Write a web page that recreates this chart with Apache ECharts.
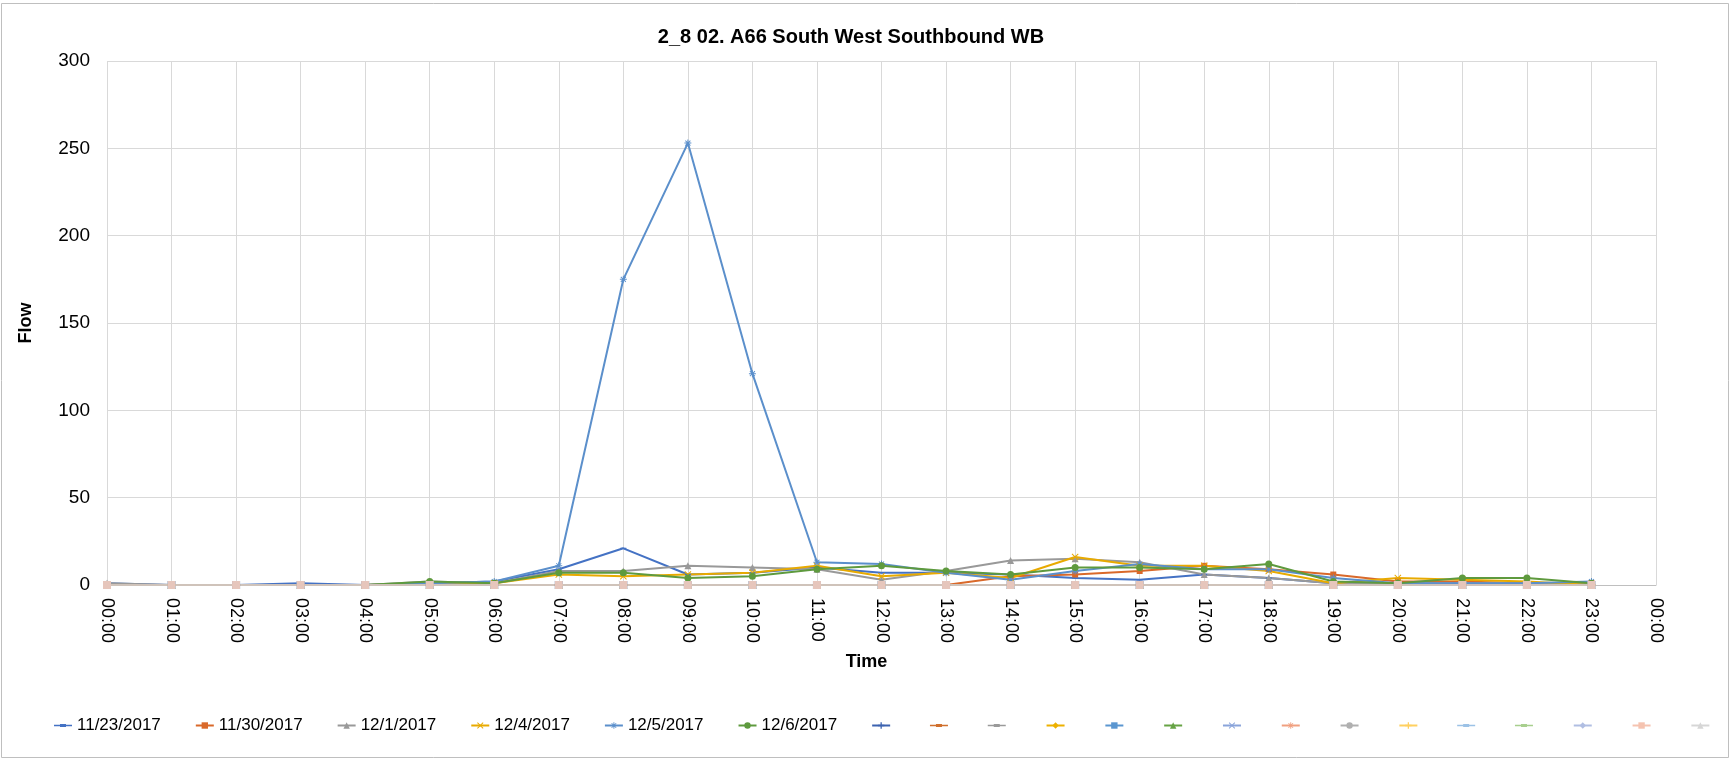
<!DOCTYPE html>
<html>
<head>
<meta charset="utf-8">
<script src="https://cdn.jsdelivr.net/npm/echarts@6/dist/echarts.min.js"></script>
<style>
html,body{margin:0;padding:0;background:#fff;}
#chart{width:1731px;height:763px;}
</style>
</head>
<body>
<div id="chart"></div>
<script>
// ---- data ----
const times = ['00:00','01:00','02:00','03:00','04:00','05:00','06:00','07:00','08:00','09:00','10:00','11:00','12:00','13:00','14:00','15:00','16:00','17:00','18:00','19:00','20:00','21:00','22:00','23:00','00:00'];
const yTicks = [0, 50, 100, 150, 200, 250, 300];
const seriesNames = ['11/23/2017','11/30/2017','12/1/2017','12/4/2017','12/5/2017','12/6/2017'];
const s1123 = [1,0,0,1,0,1,2,9,21,6,7,10,7,7,6,4,3,6,4,1,1,1,1,1];
const s1130 = [0,0,0,0,0,0,0,0,0,0,0,0,0,0,5,6,8,11,9,6,2,2,1,1];
const s1201 = [1,0,0,0,0,2,1,8,8,11,10,9,3,8,14,15,13,6,4,1,1,1,1,1];
const s1204 = [0,0,0,0,0,1,1,6,5,6,7,11,5,7,4,16,11,11,8,1,4,3,2,0];
const s1205 = [0,0,0,0,0,1,2,11,175,253,121,13,12,7,3,8,12,9,9,4,1,1,1,2];
const s1206 = [0,0,0,0,0,2,1,7,7,4,5,9,11,8,6,10,10,9,12,2,1,4,4,1];
const zeroSeries = [0,0,0,0,0,0,0,0,0,0,0,0,0,0,0,0,0,0,0,0,0,0,0,0];
const emptySeries = [];
const namedData = [s1123, s1130, s1201, s1204, s1205, s1206];
const unnamedData = [zeroSeries,zeroSeries,zeroSeries,zeroSeries,zeroSeries,zeroSeries,zeroSeries,zeroSeries,zeroSeries,zeroSeries,zeroSeries,zeroSeries,zeroSeries,zeroSeries,emptySeries];

// ---- styles ----
const SYM = {
  plus: 'path://M4,0H6V4H10V6H6V10H4V6H0V4H4Z',
  cross: 'path://M1,0L5,4L9,0L10,1L6,5L10,9L9,10L5,6L1,10L0,9L4,5L0,1Z',
  dash: 'path://M0,0H10V2H0Z',
  aster: 'path://M4.3,0h1.4v3.3l2.4-2.4 1,1-2.4,2.4h3.3v1.4h-3.3l2.4,2.4-1,1-2.4-2.4v3.3h-1.4v-3.3l-2.4,2.4-1-1 2.4-2.4h-3.3v-1.4h3.3l-2.4-2.4 1-1 2.4,2.4z'
};
const DASH_ICON = 'path://M0,0h0.01v0.01h-0.01z M0,8h0.01v-0.01h-0.01z M0,3.2H6V2.5H12V3.2H18V4.8H12V5.5H6V4.8H0Z';
const namedStyle = [
  {color:'#4472C4', symbol:SYM.dash, size:6, dashIcon:true},
  {color:'#D9692A', symbol:'rect', size:6},
  {color:'#999999', symbol:'triangle', size:7},
  {color:'#E8AA00', symbol:SYM.cross, size:7},
  {color:'#5B8FCB', symbol:SYM.aster, size:7},
  {color:'#5E9A3E', symbol:'circle', size:7}
];
const unnamedStyle = [
  {color:'#3C63B0', symbol:SYM.plus, size:8},
  {color:'#D0702E', symbol:SYM.dash, size:6, dashIcon:true},
  {color:'#9A9A9A', symbol:SYM.dash, size:6, dashIcon:true},
  {color:'#EDB100', symbol:'diamond', size:8},
  {color:'#5B96D0', symbol:'rect', size:8},
  {color:'#66A344', symbol:'triangle', size:8},
  {color:'#8AA4DA', symbol:SYM.cross, size:7},
  {color:'#F0A080', symbol:SYM.aster, size:8},
  {color:'#B0B0B0', symbol:'circle', size:7},
  {color:'#FFD060', symbol:SYM.plus, size:8},
  {color:'#9CC2E6', symbol:SYM.dash, size:6, dashIcon:true},
  {color:'#A8CF8E', symbol:SYM.dash, size:6, dashIcon:true},
  {color:'#B0BEE2', symbol:'diamond', size:8},
  {color:'#F5C3B0', symbol:'rect', size:8, line:'#CFC3BA', item:'#E6C6BC'},
  {color:'#D6D6D6', symbol:'triangle', size:8}
];

const FONT = '"Liberation Sans", Arial, sans-serif';
const series = [];
const legendData = [];
function toPts(arr){ return arr.map((v,i)=>[i, v]); }
namedData.forEach((d,i)=>{
  const st = namedStyle[i];
  series.push({
    name: seriesNames[i], type:'line', data: toPts(d),
    symbol: st.symbol, symbolSize: st.size, symbolKeepAspect:true, showSymbol:true,
    lineStyle:{color:st.color, width:2}, itemStyle:{color:st.color},
    emphasis:{disabled:true}
  });
  const ld = {name: seriesNames[i]};
  if (st.dashIcon) { ld.icon = DASH_ICON; ld.itemStyle = {color: st.color}; }
  legendData.push(ld);
});
unnamedData.forEach((d,i)=>{
  const st = unnamedStyle[i];
  const nm = 'u' + (i+1);
  series.push({
    name: nm, type:'line', data: toPts(d),
    symbol: st.symbol, symbolSize: st.size, symbolKeepAspect:true, showSymbol:true,
    lineStyle:{color: st.line || st.color, width:2}, itemStyle:{color: st.item || st.color},
    emphasis:{disabled:true}
  });
  const ld = {name: nm, lineStyle:{color:st.color}, itemStyle:{color:st.color}, textStyle:{fontSize:4}};
  if (st.dashIcon) ld.icon = DASH_ICON;
  legendData.push(ld);
});

const chart = echarts.init(document.getElementById('chart'));
chart.setOption({
  animation:false,
  backgroundColor:'#fff',
  title:{
    text:'2_8 02. A66 South West Southbound WB',
    left:846, top:22, textAlign:'center',
    textStyle:{fontFamily:FONT, fontSize:20, fontWeight:'bold', color:'#000'}
  },
  graphic:[{type:'rect', shape:{x:1.5, y:3.5, width:1727, height:754}, style:{fill:'none', stroke:'#BFBFBF', lineWidth:1}, silent:true}],
  grid:{left:107, right:75, top:61, bottom:178, containLabel:false},
  legend:{
    data: legendData, left:49, top:712, itemWidth:18, itemHeight:8, itemGap:34,
    formatter: n => (/^u\d+$/.test(n) ? '\u2009' : n),
    textStyle:{fontFamily:FONT, fontSize:17, color:'#000'}
  },
  xAxis:{
    type:'value', min:0, max:24, interval:1,
    name:'Time', nameLocation:'middle', nameGap:68,
    nameTextStyle:{fontFamily:FONT, fontSize:18, fontWeight:'bold', color:'#000', padding:[0,30,0,0]},
    axisLine:{show:true, lineStyle:{color:'#BFBFBF', width:1}},
    axisTick:{show:false},
    splitLine:{show:true, lineStyle:{color:'#D9D9D9', width:1}},
    axisLabel:{rotate:-90, margin:13, fontFamily:FONT, fontSize:18, color:'#000',
      formatter: v => times[v]}
  },
  yAxis:{
    type:'value', min:yTicks[0], max:yTicks[yTicks.length-1], interval:yTicks[1]-yTicks[0],
    name:'Flow', nameLocation:'middle', nameGap:72,
    nameTextStyle:{fontFamily:FONT, fontSize:18, fontWeight:'bold', color:'#000'},
    axisLine:{show:false}, axisTick:{show:false},
    splitLine:{show:true, lineStyle:{color:'#D9D9D9', width:1}},
    axisLabel:{margin:17, fontFamily:FONT, fontSize:19, color:'#000'}
  },
  series: series
});
</script>
</body>
</html>
